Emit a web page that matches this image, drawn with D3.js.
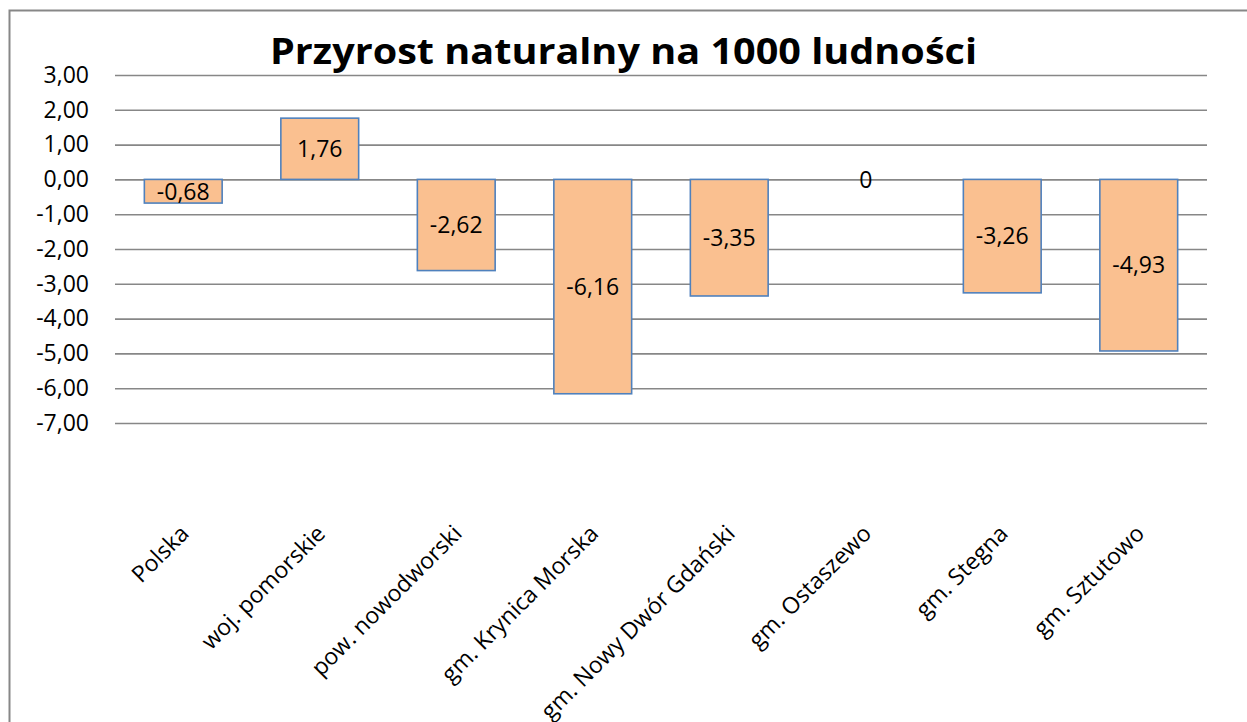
<!DOCTYPE html>
<meta charset="utf-8">
<style>
    body { margin: 0; background: #fff; }
    svg { font-family: "Open Sans", sans-serif; }
    .grid line { stroke: #878787; stroke-width: 1.6px; }
    .grid .domain { display: none; }
    .grid text { font-family: "Open Sans", sans-serif; font-size: 23px; fill: #000; }
    .bar { fill: #fac090; stroke: #4f81bd; stroke-width: 1.6px; }
    .label { font-size: 23px; text-anchor: middle; fill: #000; }
    .xlab { font-size: 23px; text-anchor: end; fill: #000; }
    .title { font-size: 35px; font-weight: bold; text-anchor: middle; }
</style>
<svg id="svg" width="1247" height="722"></svg>

<script src="https://cdn.jsdelivr.net/npm/d3@7"></script>
<script>

var categories = ["Polska", "woj. pomorskie", "pow. nowodworski", "gm. Krynica Morska",
                  "gm. Nowy Dwór Gdański", "gm. Ostaszewo", "gm. Stegna", "gm. Sztutowo"];
var values = [-0.68, 1.76, -2.62, -6.16, -3.35, 0, -3.26, -4.93];
var yTicks = [3, 2, 1, 0, -1, -2, -3, -4, -5, -6, -7];
var title = "Przyrost naturalny na 1000 ludności";

var svg = d3.select("#svg"),
    plotLeft = 115, plotRight = 1207, plotTop = 75, plotBottom = 423;

var pl = d3.formatLocale({decimal: ",", thousands: " ", grouping: [3], currency: ["", " zł"], minus: "-"});
var fmtTick = pl.format(".2f");

// outer chart border (cut off at right and bottom)
svg.append("rect")
    .attr("x", 9.5).attr("y", 10.5)
    .attr("width", 1300).attr("height", 800)
    .attr("fill", "none")
    .attr("stroke", "#878787")
    .attr("stroke-width", 2);

var x = d3.scaleBand()
    .domain(categories)
    .range([plotLeft, plotRight])
    .paddingInner(0.43)
    .paddingOuter(0.215);

var y = d3.scaleLinear()
    .domain([d3.min(yTicks), d3.max(yTicks)])
    .range([plotBottom, plotTop]);

svg.append("g")
    .attr("class", "grid")
    .attr("transform", "translate(" + plotLeft + ",0)")
    .call(d3.axisLeft(y)
        .tickValues(yTicks)
        .tickSize(-(plotRight - plotLeft))
        .tickPadding(26)
        .tickFormat(fmtTick))
    .attr("font-family", null)
    .attr("font-size", null);

svg.selectAll(".bar")
    .data(values)
    .enter().append("rect")
    .attr("class", "bar")
    .attr("x", function(d, i) { return x(categories[i]); })
    .attr("width", x.bandwidth())
    .attr("y", function(d) { return y(Math.max(0, d)); })
    .attr("height", function(d) { return Math.abs(y(d) - y(0)); })
    .style("display", function(d) { return d === 0 ? "none" : null; });

svg.selectAll(".label")
    .data(values)
    .enter().append("text")
    .attr("class", "label")
    .attr("x", function(d, i) { return x(categories[i]) + x.bandwidth() / 2; })
    .attr("y", function(d) { return (y(d) + y(0)) / 2; })
    .attr("dy", "0.36em")
    .text(function(d) { return String(d).replace(".", ","); });

svg.selectAll(".xlab")
    .data(categories)
    .enter().append("text")
    .attr("class", "xlab")
    .attr("transform", function(d) {
        return "translate(" + (x(d) + x.bandwidth() / 2 + 7) + ",535) rotate(-45)";
    })
    .text(function(d) { return d; });

svg.append("text")
    .attr("class", "title")
    .attr("x", 623.5)
    .attr("y", 64)
    .attr("textLength", 707)
    .attr("lengthAdjust", "spacingAndGlyphs")
    .text(title);

</script>
